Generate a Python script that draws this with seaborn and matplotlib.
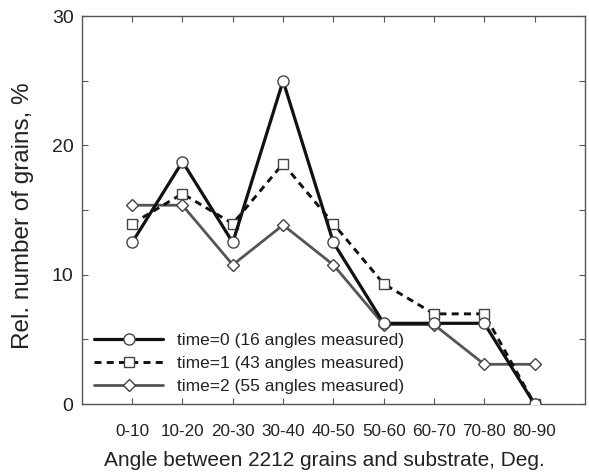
import matplotlib
matplotlib.use("Agg")
import matplotlib.pyplot as plt
import seaborn as sns
import pandas as pd

# Angle bins between 2212 grains and the substrate
categories = ["0-10", "10-20", "20-30", "30-40", "40-50",
              "50-60", "60-70", "70-80", "80-90"]

# Relative number of grains (%) in each angular bin
time0 = [12.5, 18.75, 12.5, 25.0, 12.5, 6.25, 6.25, 6.25, 0.0]
time1 = [13.95, 16.28, 13.95, 18.60, 13.95, 9.30, 6.98, 6.98, 0.0]
time2 = [15.38, 15.38, 10.77, 13.85, 10.77, 6.15, 6.15, 3.08, 3.08]

labels = ["time=0 (16 angles measured)",
          "time=1 (43 angles measured)",
          "time=2 (55 angles measured)"]

sns.set_style("ticks")
plt.rcParams["font.family"] = ["Liberation Sans", "DejaVu Sans"]

fig = plt.figure(figsize=(5.89, 4.76), dpi=100)
ax = fig.add_axes([0.139, 0.151, 0.854, 0.815])

pos = list(range(1, len(categories) + 1))
styles = [
    dict(series=time0, color="#111111", lw=2.3, ls="-", marker="o", ms=8.0, z=4),
    dict(series=time1, color="#111111", lw=2.1, ls=(0, (2.4, 1.8)), marker="s", ms=7.0, z=3),
    dict(series=time2, color="#555555", lw=2.0, ls="-", marker="D", ms=6.0, z=2),
]

for st, lab in zip(styles, labels):
    df = pd.DataFrame({"pos": pos, "value": st["series"]})
    sns.lineplot(data=df, x="pos", y="value", ax=ax, color=st["color"],
                 linewidth=st["lw"], linestyle=st["ls"], marker=st["marker"],
                 markersize=st["ms"], markerfacecolor="white",
                 markeredgecolor="#444444", markeredgewidth=1.0,
                 label=lab, zorder=st["z"])

ax.set_xlim(0, 10)
ax.set_ylim(0, 30)
ax.set_xticks(pos)
ax.set_xticklabels(categories, fontsize=12.3, color="#222222")
ax.set_yticks([0, 10, 20, 30])
ax.set_yticks([5, 15, 25], minor=True)
ax.tick_params(axis="y", labelsize=14, colors="#222222")
ax.tick_params(which="both", direction="in", top=True, right=True,
               length=4, width=0.8, color="#555555")
ax.tick_params(axis="x", pad=14)
ax.tick_params(axis="y", pad=6)

for sp in ax.spines.values():
    sp.set_color("#555555")
    sp.set_linewidth(1.0)

ax.set_xlabel("Angle between 2212 grains and substrate, Deg.",
              fontsize=15, color="#222222")
ax.xaxis.set_label_coords(0.482, -0.122)
ax.set_ylabel("Rel. number of grains, %", fontsize=17.5, color="#222222")
ax.yaxis.set_label_coords(-0.095, 0.485)

handles, labs = ax.get_legend_handles_labels()
ax.legend(handles, labs, loc="lower left", bbox_to_anchor=(0.0, -0.006),
          frameon=False, handlelength=4.0, handletextpad=0.8,
          labelspacing=0.45, fontsize=12.5, borderaxespad=0.3,
          labelcolor="#222222")

fig.savefig("out.png", dpi=100, facecolor="white")
